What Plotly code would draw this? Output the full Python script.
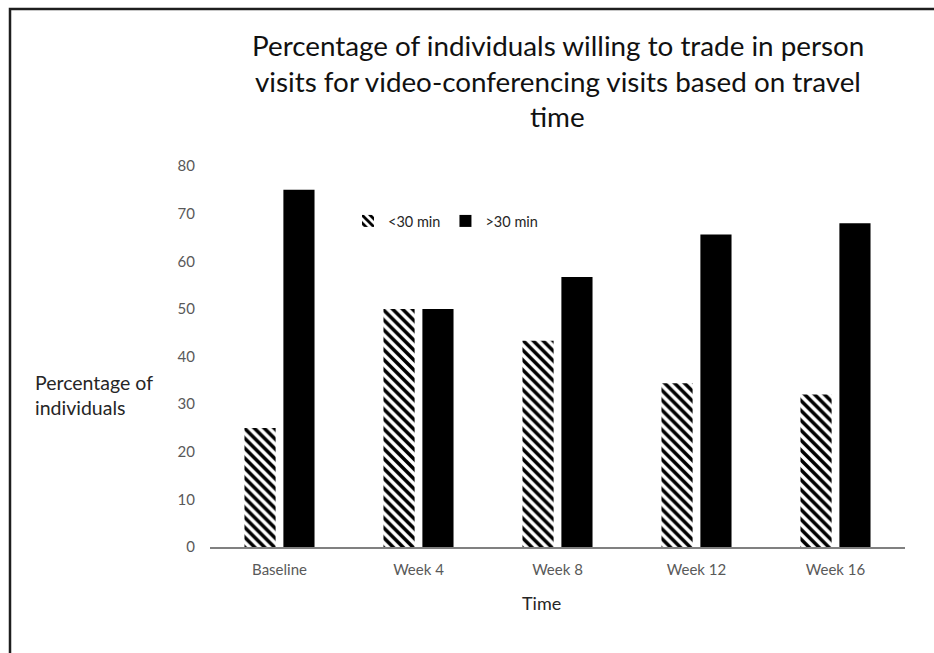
import plotly.graph_objects as go

# Survey time points
categories = ["Baseline", "Week 4", "Week 8", "Week 12", "Week 16"]

# Percentage of individuals willing to switch, by travel time
under_30 = [25, 50, 43.3, 34.4, 32]
over_30 = [75, 50, 56.7, 65.6, 68]

y_ticks = [0, 10, 20, 30, 40, 50, 60, 70, 80]

W, H = 934, 653
L, R, T, B = 210, 29, 166, 106
plot_w = W - L - R
plot_h = H - T - B


def px_x(p):
    return (p - L) / plot_w


def px_y(p):
    return (H - B - p) / plot_h


FONT = "Lato, 'Open Sans', sans-serif"
GREY = "#595959"
DARK = "#262626"

fig = go.Figure()
fig.add_trace(go.Bar(
    x=categories, y=under_30, name="<30 min",
    marker=dict(color="white", line=dict(width=0),
                pattern=dict(shape="\\", fgcolor="#000000", bgcolor="white",
                             fgopacity=1, fillmode="replace",
                             size=7, solidity=0.5)),
))
fig.add_trace(go.Bar(
    x=categories, y=over_30, name=">30 min",
    marker=dict(color="black", line=dict(width=0)),
))

title_lines = [
    "Percentage of individuals willing to trade in person",
    "visits for video-conferencing visits based on travel",
    "time",
]
title_y = [45, 81, 117]
annotations = []
for text, yp in zip(title_lines, title_y):
    annotations.append(dict(
        text=text, xref="paper", yref="paper", x=0.5, y=px_y(yp),
        xanchor="center", yanchor="middle", showarrow=False,
        font=dict(family=FONT, size=27.8, color="#111111"),
    ))

annotations.append(dict(
    text="Percentage of<br>individuals", xref="paper", yref="paper",
    x=px_x(33), y=px_y(395), xanchor="left", yanchor="middle",
    align="left", showarrow=False,
    font=dict(family=FONT, size=19.5, color=DARK),
))
annotations.append(dict(
    text="Time", xref="paper", yref="paper",
    x=px_x(541), y=px_y(603), xanchor="center", yanchor="middle",
    showarrow=False, font=dict(family=FONT, size=18, color=DARK),
))

fig.update_layout(
    width=W, height=H,
    margin=dict(l=L, r=R, t=T, b=B, pad=0),
    paper_bgcolor="white", plot_bgcolor="white",
    barmode="group", bargap=0.44, bargroupgap=0.2,
    showlegend=True,
    legend=dict(orientation="h", x=px_x(348), y=px_y(221),
                xanchor="left", yanchor="middle",
                font=dict(family=FONT, size=14.5, color=DARK),
                itemwidth=30, bgcolor="rgba(0,0,0,0)"),
    annotations=annotations,
    shapes=[dict(type="rect", xref="paper", yref="paper",
                 x0=px_x(10), x1=px_x(W + 20), y0=px_y(H + 20), y1=px_y(9),
                 line=dict(color="#1e1e1e", width=2.5),
                 fillcolor="rgba(0,0,0,0)", layer="above")],
    xaxis=dict(showgrid=False, showline=True, linecolor="#808080",
               linewidth=2, ticks="", ticklabelstandoff=8,
               tickfont=dict(family=FONT, size=15, color=GREY)),
    yaxis=dict(range=[0, 80], tickvals=y_ticks, showgrid=False,
               showline=False, zeroline=False, ticks="",
               ticklabelstandoff=14,
               tickfont=dict(family=FONT, size=15, color=GREY)),
)

fig.write_html("out.html")
